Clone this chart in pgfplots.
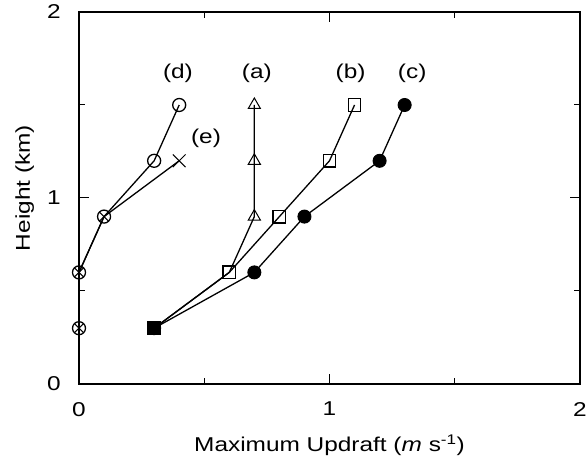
\documentclass[border=0pt]{standalone}
\usepackage{fontspec}
\setmainfont{Liberation Sans}[FakeStretch=1.22]
\usepackage{pgfplots}
\pgfplotsset{compat=1.18}
\begin{document}
\fontsize{20}{24}\selectfont
\begin{tikzpicture}
\begin{axis}[
  scale only axis, width=501pt, height=372pt,
  xmin=0, xmax=2, ymin=0, ymax=2,
  xtick={0,1,2}, ytick={0,1,2},
  minor xtick={0.5,1.5}, minor ytick={0.5,1.5},
  tick align=inside, major tick length=10pt, minor tick length=6pt,
  axis line style={line width=1.1pt}, every tick/.style={line width=1pt, black},
  /pgf/number format/assume math mode=true,
  ticklabel style={font=\fontsize{20}{24}\selectfont},
  xticklabel style={inner sep=0pt, anchor=north, yshift=-18pt},
  yticklabel style={inner sep=0pt, anchor=east, xshift=-18pt},
  xlabel={Maximum Updraft (\textit{m} s\textsuperscript{-1})},
  ylabel={Height (km)},
  label style={font=\fontsize{20}{24}\selectfont},
  xlabel style={at={(axis description cs:0.5,0)}, anchor=base, inner sep=0pt, yshift=-68pt},
  ylabel style={at={(axis description cs:0,0.5)}, anchor=base, inner sep=0pt, yshift=49pt, xshift=10pt},
  clip=false,
  every axis plot/.append style={black, line width=1.3pt, mark options={solid, line width=1pt}},
]
% (a)
\addplot[mark=triangle, mark size=7pt, mark indices={3,4,5}] coordinates {(0.3,0.3) (0.6,0.6) (0.7,0.9) (0.7,1.2) (0.7,1.5)};
% (b)
\addplot[mark=square, mark size=6.3pt, mark options={fill=white}] coordinates {(0.3,0.3) (0.6,0.6) (0.8,0.9) (1.0,1.2) (1.1,1.5)};
% (c)
\addplot[mark=*, mark size=6.5pt] coordinates {(0.3,0.3) (0.7,0.6) (0.9,0.9) (1.2,1.2) (1.3,1.5)};
\addplot[only marks, mark=square*, mark size=6.3pt] coordinates {(0.3,0.3)};
% (d)
\addplot[mark=o, mark size=6.5pt, mark options={fill=white}] coordinates {(0,0.3) (0,0.6) (0.1,0.9) (0.3,1.2) (0.4,1.5)};
% (e)
\addplot[mark=x, mark size=6.5pt, mark indices={1,2,3}] coordinates {(0,0.3) (0,0.6) (0.1,0.9) (0.4,1.2)};
\addplot[only marks, mark=x, mark size=9pt] coordinates {(0.4,1.2)};
\node at (axis cs:0.395,1.67) {(d)};
\node at (axis cs:0.71,1.67) {(a)};
\node at (axis cs:1.084,1.67) {(b)};
\node at (axis cs:1.33,1.67) {(c)};
\node at (axis cs:0.507,1.32) {(e)};
\end{axis}
\pgfresetboundingbox
\path (current axis.south west) ++(-79pt,-78pt) rectangle ++(587pt,462pt);
\end{tikzpicture}
\end{document}
